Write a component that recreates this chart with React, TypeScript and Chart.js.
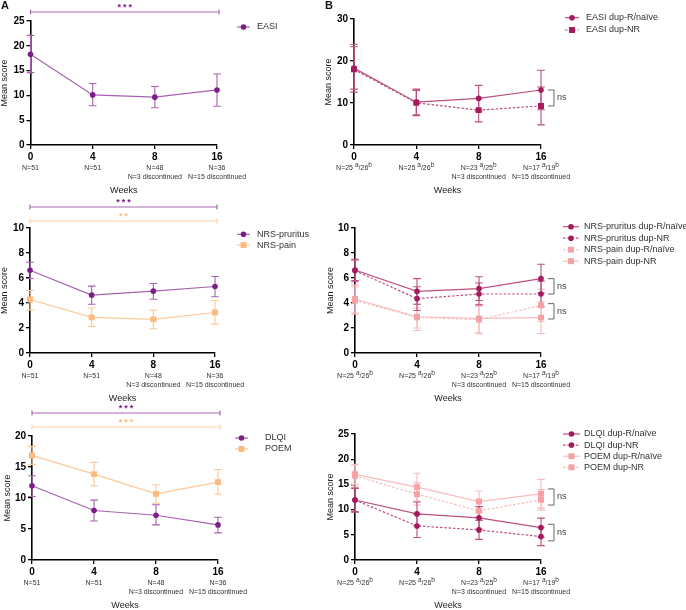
import React, { useEffect, useRef } from 'react';
import { Chart, registerables } from 'chart.js';
Chart.register(...registerables);

const FONT = '"Liberation Sans", Arial, sans-serif';

// ---- categories / tick labels ----
const weeks = ['0', '4', '8', '16'];
const nAllLine1 = ['N=51', 'N=51', 'N=48', 'N=36'];
const nLine2 = ['', '', 'N=3 discontinued', 'N=15 discontinued'];
const nRespA = ['25', '25', '23', '17'];
const nRespB = ['26', '26', '25', '19'];

// ---- Panel A: EASI ----
const easi = [18.3, 10.1, 9.65, 11.1];
const easiLo = [14.6, 7.9, 7.5, 7.8];
const easiHi = [22.1, 12.4, 11.8, 14.3];

// ---- Panel B: EASI by subgroup ----
const easiR = [18.3, 10.2, 11.1, 13.1];
const easiRLo = [12.6, 7.2, 8.1, 8.4];
const easiRHi = [24.0, 13.3, 14.2, 17.8];
const easiNR = [18.0, 10.05, 8.3, 9.3];
const easiNRLo = [13.3, 7.0, 5.5, 4.8];
const easiNRHi = [23.4, 13.0, 11.2, 13.8];

// ---- Panel A: NRS ----
const prur = [6.62, 4.63, 4.95, 5.32];
const prurLo = [5.96, 3.9, 4.3, 4.5];
const prurHi = [7.26, 5.35, 5.56, 6.12];
const pain = [4.28, 2.85, 2.69, 3.24];
const painLo = [3.43, 2.13, 1.94, 2.31];
const painHi = [5.0, 3.6, 3.43, 4.2];

// ---- Panel B: NRS by subgroup ----
const prurR = [6.64, 4.93, 5.15, 5.95];
const prurRLo = [5.8, 3.9, 4.2, 4.8];
const prurRHi = [7.5, 5.95, 6.1, 7.1];
const prurNR = [6.59, 4.35, 4.72, 4.72];
const prurNRLo = [5.7, 3.4, 3.85, 3.7];
const prurNRHi = [7.45, 5.3, 5.6, 5.75];
const painR = [4.2, 2.85, 2.67, 3.81];
const painRLo = [3.1, 1.8, 1.6, 2.5];
const painRHi = [5.3, 3.9, 3.75, 5.1];
const painNR = [4.32, 2.9, 2.77, 2.83];
const painNRLo = [3.2, 2.0, 1.55, 1.55];
const painNRHi = [5.45, 3.6, 3.9, 4.1];

// ---- Panel A: DLQI / POEM ----
const dlqi = [11.97, 7.98, 7.22, 5.66];
const dlqiLo = [10.24, 6.3, 5.66, 4.37];
const dlqiHi = [13.6, 9.65, 8.9, 6.9];
const poem = [16.87, 13.85, 10.67, 12.56];
const poemLo = [15.4, 11.97, 9.16, 10.6];
const poemHi = [18.33, 15.74, 12.13, 14.6];

// ---- Panel B: DLQI / POEM by subgroup ----
const dlqiR = [11.9, 9.15, 8.36, 6.43];
const dlqiRLo = [9.5, 6.8, 6.1, 4.5];
const dlqiRHi = [14.3, 11.5, 10.6, 8.3];
const dlqiNR = [11.9, 6.76, 5.97, 4.64];
const dlqiNRLo = [9.6, 4.45, 4.1, 2.85];
const dlqiNRHi = [14.2, 9.1, 7.9, 6.4];
const poemR = [17.0, 14.46, 11.6, 13.13];
const poemRLo = [15.0, 11.7, 9.5, 10.3];
const poemRHi = [19.0, 17.2, 13.7, 16.0];
const poemNR = [16.7, 13.06, 9.75, 11.94];
const poemNRLo = [14.5, 10.9, 7.9, 9.9];
const poemNRHi = [18.9, 15.3, 11.6, 14.0];

// ns brackets (value ranges at week 16)
const nsEasi = [[13.1, 9.3]];
const nsNrs = [[5.95, 4.72], [3.95, 2.72]];
const nsDlqiPoem = [[14.1, 10.9], [7.1, 3.8]];

// ---- colours ----
const PURPLE = '#7b1e87';
const PURPLE_L = '#a662ae';
const ORANGE = '#fbbb80';
const ORANGE_L = '#fcca98';
const CRIMSON = '#a51a5c';
const CRIMSON_L = '#bd4f80';
const PINK = '#f6a2a5';
const PINK_L = '#f8bcbe';

type S = {
  label: string; data: number[]; lo: number[]; hi: number[];
  color: string; line: string; style: 'circle' | 'rect'; dashed: boolean;
};

function s(label: string, data: number[], lo: number[], hi: number[], color: string, line: string, style: 'circle' | 'rect', dashed: boolean): S {
  return { label, data, lo, hi, color, line, style, dashed };
}

const panels = [
  {
    key: 'tl', canvas: { x: 0, y: 0, w: 340, h: 200 }, plot: { l: 30.5, r: 217, t: 21, b: 145 },
    yMax: 25, yStep: 5, resp: false, titleX: 5, letter: { t: 'A', x: 1, y: 6 },
    series: [s('EASI', easi, easiLo, easiHi, PURPLE, PURPLE_L, 'circle', false)],
    legend: { x1: 237, x2: 250, tx: 257, y0: 27, dy: 11 },
    sig: [{ y: 12, sy: 6, line: '#a56aad', star: PURPLE, n: 3 }],
    ns: [] as number[][],
  },
  {
    key: 'tr', canvas: { x: 320, y: 0, w: 366, h: 200 }, plot: { l: 354, r: 541, t: 19, b: 145 },
    yMax: 30, yStep: 10, resp: true, titleX: 329, letter: { t: 'B', x: 325, y: 6 },
    series: [
      s('EASI dup-R/naïve', easiR, easiRLo, easiRHi, CRIMSON, CRIMSON_L, 'circle', false),
      s('EASI dup-NR', easiNR, easiNRLo, easiNRHi, CRIMSON, CRIMSON_L, 'rect', true),
    ],
    legend: { x1: 565, x2: 579, tx: 586, y0: 17.7, dy: 12.3 },
    sig: [] as any[],
    ns: nsEasi,
  },
  {
    key: 'ml', canvas: { x: 0, y: 194, w: 340, h: 210 }, plot: { l: 30, r: 215, t: 228, b: 353 },
    yMax: 10, yStep: 2, resp: false, titleX: 5, letter: null,
    series: [
      s('NRS-pruritus', prur, prurLo, prurHi, PURPLE, PURPLE_L, 'circle', false),
      s('NRS-pain', pain, painLo, painHi, ORANGE, ORANGE_L, 'rect', false),
    ],
    legend: { x1: 237, x2: 250, tx: 257, y0: 234.3, dy: 10.8 },
    sig: [
      { y: 207, sy: 201, line: '#a56aad', star: PURPLE, n: 3 },
      { y: 221, sy: 215, line: '#fdd3a8', star: ORANGE, n: 2 },
    ],
    ns: [] as number[][],
  },
  {
    key: 'mr', canvas: { x: 320, y: 194, w: 366, h: 210 }, plot: { l: 355, r: 541, t: 228, b: 353 },
    yMax: 10, yStep: 2, resp: true, titleX: 331, letter: null,
    series: [
      s('NRS-pruritus dup-R/naïve', prurR, prurRLo, prurRHi, CRIMSON, CRIMSON_L, 'circle', false),
      s('NRS-pruritus dup-NR', prurNR, prurNRLo, prurNRHi, CRIMSON, CRIMSON_L, 'circle', true),
      s('NRS-pain dup-R/naïve', painR, painRLo, painRHi, PINK, PINK_L, 'rect', true),
      s('NRS-pain dup-NR', painNR, painNRLo, painNRHi, PINK, PINK_L, 'rect', false),
    ],
    legend: { x1: 563, x2: 579, tx: 584, y0: 226.7, dy: 11.5 },
    sig: [] as any[],
    ns: nsNrs,
  },
  {
    key: 'bl', canvas: { x: 0, y: 400, w: 340, h: 210 }, plot: { l: 32, r: 218, t: 436, b: 560 },
    yMax: 20, yStep: 5, resp: false, titleX: 8, letter: null,
    series: [
      s('DLQI', dlqi, dlqiLo, dlqiHi, PURPLE, PURPLE_L, 'circle', false),
      s('POEM', poem, poemLo, poemHi, ORANGE, ORANGE_L, 'rect', false),
    ],
    legend: { x1: 235, x2: 248, tx: 265, y0: 438, dy: 11 },
    sig: [
      { y: 413, sy: 407, line: '#a56aad', star: PURPLE, n: 3 },
      { y: 427, sy: 421, line: '#fdd3a8', star: ORANGE, n: 3 },
    ],
    ns: [] as number[][],
  },
  {
    key: 'br', canvas: { x: 320, y: 400, w: 366, h: 210 }, plot: { l: 355, r: 541, t: 434, b: 560 },
    yMax: 25, yStep: 5, resp: true, titleX: 331, letter: null,
    series: [
      s('DLQI dup-R/naïve', dlqiR, dlqiRLo, dlqiRHi, CRIMSON, CRIMSON_L, 'circle', false),
      s('DLQI dup-NR', dlqiNR, dlqiNRLo, dlqiNRHi, CRIMSON, CRIMSON_L, 'circle', true),
      s('POEM dup-R/naïve', poemR, poemRLo, poemRHi, PINK, PINK_L, 'rect', false),
      s('POEM dup-NR', poemNR, poemNRLo, poemNRHi, PINK, PINK_L, 'rect', true),
    ],
    legend: { x1: 563, x2: 580, tx: 584, y0: 434, dy: 11.1 },
    sig: [] as any[],
    ns: nsDlqiPoem,
  },
];

const Y_W = 24;
const X_H = 20;
const CIRCLE_R = 2.8;
const RECT_R = 4.2;

function drawMarker(ctx: CanvasRenderingContext2D, style: string, x: number, y: number, color: string) {
  ctx.fillStyle = color;
  ctx.beginPath();
  if (style === 'circle') {
    ctx.arc(x, y, CIRCLE_R, 0, Math.PI * 2);
  } else {
    const h = RECT_R * Math.SQRT1_2;
    ctx.rect(x - h, y - h, 2 * h, 2 * h);
  }
  ctx.fill();
}

function makeDecor(p: any) {
  return {
    id: 'decor_' + p.key,
    beforeDatasetsDraw(chart: any) {
      const ctx = chart.ctx as CanvasRenderingContext2D;
      const xs = chart.scales.x, ys = chart.scales.y;
      ctx.save();
      ctx.setLineDash([]);
      ctx.lineWidth = 1.1;
      for (let k = p.series.length - 1; k >= 0; k--) {
        const se = p.series[k];
        ctx.strokeStyle = se.line;
        for (let i = 0; i < se.data.length; i++) {
          const x = xs.getPixelForValue(i);
          const y1 = ys.getPixelForValue(se.lo[i]);
          const y2 = ys.getPixelForValue(se.hi[i]);
          ctx.beginPath();
          ctx.moveTo(x, y1); ctx.lineTo(x, y2);
          ctx.moveTo(x - 3.8, y1); ctx.lineTo(x + 3.8, y1);
          ctx.moveTo(x - 3.8, y2); ctx.lineTo(x + 3.8, y2);
          ctx.stroke();
        }
      }
      ctx.restore();
    },
    afterDraw(chart: any) {
      const ctx = chart.ctx as CanvasRenderingContext2D;
      const ca = chart.chartArea;
      const xs = chart.scales.x, ys = chart.scales.y;
      const ox = p.canvas.x, oy = p.canvas.y;
      ctx.save();
      ctx.setLineDash([]);
      // N labels
      ctx.fillStyle = '#333';
      ctx.textBaseline = 'middle';
      for (let i = 0; i < weeks.length; i++) {
        const x = xs.getPixelForValue(i);
        const y1 = ca.bottom + 23.5;
        const y2 = ca.bottom + 32.5;
        if (p.resp) {
          const segs = [
            { t: 'N=' + nRespA[i] + ' ', sup: false },
            { t: 'a', sup: true },
            { t: '/' + nRespB[i], sup: false },
            { t: 'b', sup: true },
          ];
          let total = 0;
          const widths = segs.map((sg) => {
            ctx.font = (sg.sup ? '6.5px ' : '7px ') + FONT;
            const w = ctx.measureText(sg.t).width;
            total += w;
            return w;
          });
          let cx = x - total / 2;
          ctx.textAlign = 'left';
          segs.forEach((sg, j) => {
            ctx.font = (sg.sup ? '6.5px ' : '7px ') + FONT;
            ctx.fillText(sg.t, cx, sg.sup ? y1 - 3 : y1);
            cx += widths[j];
          });
        } else {
          ctx.font = '7px ' + FONT;
          ctx.textAlign = 'center';
          ctx.fillText(nAllLine1[i], x, y1);
        }
        if (nLine2[i]) {
          ctx.font = '7px ' + FONT;
          ctx.textAlign = 'center';
          ctx.fillText(nLine2[i], x, y2);
        }
      }
      // Weeks
      ctx.font = '9px ' + FONT;
      ctx.textAlign = 'center';
      ctx.fillStyle = '#222';
      ctx.fillText('Weeks', (ca.left + ca.right) / 2, ca.bottom + 46);
      // Mean score
      ctx.save();
      ctx.translate(p.titleX - ox, (ca.top + ca.bottom) / 2);
      ctx.rotate(-Math.PI / 2);
      ctx.font = '9px ' + FONT;
      ctx.textAlign = 'center';
      ctx.textBaseline = 'middle';
      ctx.fillText('Mean score', 0, 0);
      ctx.restore();
      // Legend
      const lg = p.legend;
      p.series.forEach((se: S, k: number) => {
        const y = lg.y0 + k * lg.dy - oy;
        ctx.strokeStyle = se.line;
        ctx.lineWidth = 1.2;
        ctx.setLineDash(se.dashed ? [2.5, 1.8] : []);
        ctx.beginPath();
        ctx.moveTo(lg.x1 - ox, y);
        ctx.lineTo(lg.x2 - ox, y);
        ctx.stroke();
        ctx.setLineDash([]);
        drawMarker(ctx, se.style, (lg.x1 + lg.x2) / 2 - ox, y, se.color);
        ctx.fillStyle = '#333';
        ctx.font = '9px ' + FONT;
        ctx.textAlign = 'left';
        ctx.textBaseline = 'middle';
        ctx.fillText(se.label, lg.tx - ox, y);
      });
      // significance bars
      const x0 = xs.getPixelForValue(0);
      const x3 = xs.getPixelForValue(3) + 2;
      p.sig.forEach((sg: any) => {
        const y = sg.y - oy;
        ctx.strokeStyle = sg.line;
        ctx.lineWidth = 1.2;
        ctx.beginPath();
        ctx.moveTo(x0, y); ctx.lineTo(x3, y);
        ctx.moveTo(x0, y - 2.5); ctx.lineTo(x0, y + 2.5);
        ctx.moveTo(x3, y - 2.5); ctx.lineTo(x3, y + 2.5);
        ctx.stroke();
        ctx.fillStyle = sg.star;
        ctx.font = 'bold 9px ' + FONT;
        ctx.textAlign = 'center';
        ctx.textBaseline = 'middle';
        const mid = (x0 + x3) / 2;
        for (let j = 0; j < sg.n; j++) {
          ctx.fillText('*', mid + (j - (sg.n - 1) / 2) * 5.5, sg.sy - oy + 2);
        }
      });
      // ns brackets
      const bx = xs.getPixelForValue(3);
      p.ns.forEach((b: number[]) => {
        const ya = ys.getPixelForValue(b[0]);
        const yb = ys.getPixelForValue(b[1]);
        ctx.strokeStyle = '#666';
        ctx.lineWidth = 1;
        ctx.beginPath();
        ctx.moveTo(bx + 7, ya); ctx.lineTo(bx + 13, ya); ctx.lineTo(bx + 13, yb); ctx.lineTo(bx + 7, yb);
        ctx.stroke();
        ctx.fillStyle = '#444';
        ctx.font = '9px ' + FONT;
        ctx.textAlign = 'left';
        ctx.textBaseline = 'middle';
        ctx.fillText('ns', bx + 16, (ya + yb) / 2);
      });
      // panel letter
      if (p.letter) {
        ctx.fillStyle = '#111';
        ctx.font = 'bold 11px ' + FONT;
        ctx.textAlign = 'left';
        ctx.textBaseline = 'middle';
        ctx.fillText(p.letter.t, p.letter.x - ox, p.letter.y - oy);
      }
      ctx.restore();
    },
  };
}

function buildConfig(p: any): any {
  const c = p.canvas, r = p.plot;
  const tickFont = { family: FONT, size: 10, weight: 'bold' };
  const grid = { display: true, drawOnChartArea: false, drawTicks: true, tickLength: 4, color: '#000', lineWidth: 1.3 };
  const border = { display: true, color: '#000', width: 1.6 };
  const datasets = p.series.map((se: S) => ({
    label: se.label,
    data: se.data.slice(),
    borderColor: se.line,
    backgroundColor: se.color,
    pointBackgroundColor: se.color,
    pointBorderColor: se.color,
    pointBorderWidth: 0,
    pointStyle: se.style,
    pointRadius: se.style === 'rect' ? RECT_R : CIRCLE_R,
    borderWidth: 1.2,
    borderDash: se.dashed ? [2.5, 1.8] : [],
    tension: 0,
    fill: false,
  }));
  return {
    type: 'line',
    data: { labels: weeks, datasets },
    options: {
      responsive: false,
      animation: false,
      devicePixelRatio: 1,
      events: [],
      layout: {
        padding: {
          left: r.l - c.x - Y_W,
          right: c.x + c.w - r.r,
          top: r.t - c.y,
          bottom: c.y + c.h - r.b - X_H,
        },
      },
      plugins: { legend: { display: false }, tooltip: { enabled: false }, title: { display: false } },
      scales: {
        x: {
          type: 'category', offset: false, grid, border,
          ticks: { font: tickFont, color: '#000', padding: 2, maxRotation: 0, autoSkip: false },
          afterFit: (sc: any) => { sc.height = X_H; },
        },
        y: {
          min: 0, max: p.yMax, grid, border,
          ticks: { stepSize: p.yStep, font: tickFont, color: '#000', padding: 2 },
          afterFit: (sc: any) => { sc.width = Y_W; },
        },
      },
    },
    plugins: [makeDecor(p)],
  };
}

function Panel({ p }: { p: any }) {
  const ref = useRef<HTMLCanvasElement>(null);
  useEffect(() => {
    const chart = new Chart(ref.current as HTMLCanvasElement, buildConfig(p));
    return () => chart.destroy();
  }, [p]);
  return (
    <canvas
      ref={ref}
      width={p.canvas.w}
      height={p.canvas.h}
      style={{ position: 'absolute', left: p.canvas.x, top: p.canvas.y, width: p.canvas.w, height: p.canvas.h }}
    />
  );
}

export default function App() {
  return (
    <div style={{ position: 'absolute', left: 0, top: 0, width: 686, height: 610, background: '#fff' }}>
      {panels.map((p) => (
        <Panel key={p.key} p={p} />
      ))}
    </div>
  );
}
